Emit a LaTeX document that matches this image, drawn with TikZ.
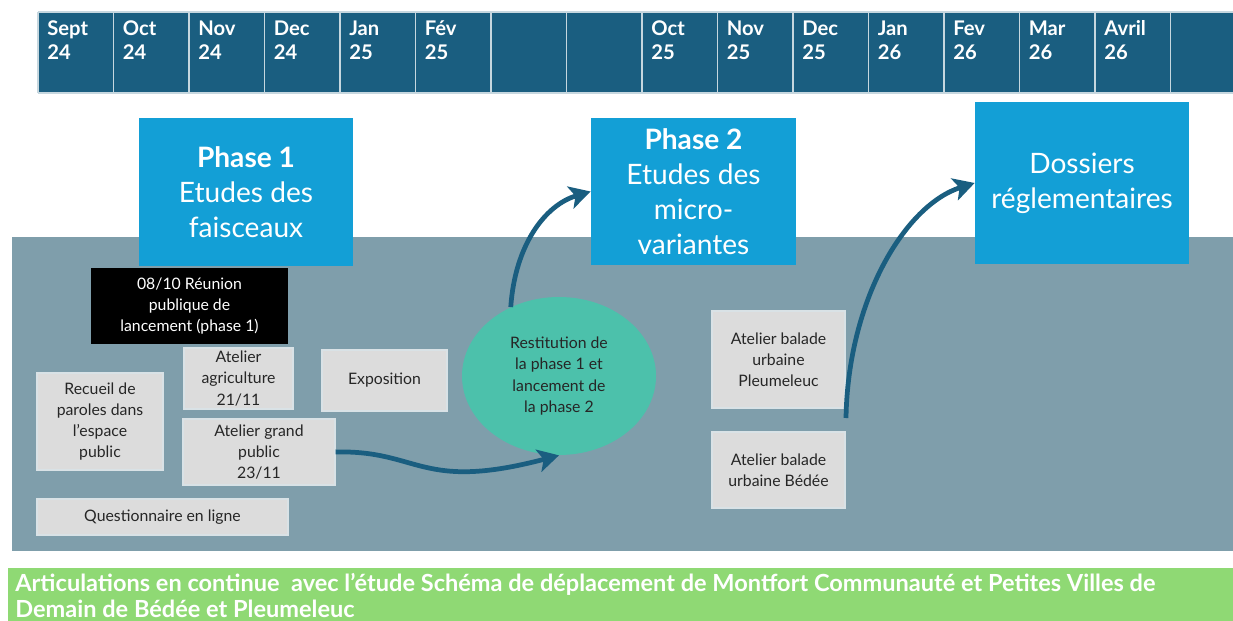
\documentclass[tikz,border=0pt]{standalone}
\usepackage{fontspec}
\setmainfont{Lato}
\usetikzlibrary{shapes.geometric,arrows.meta}

\definecolor{month blue}{HTML}{1A5E80}
\definecolor{phase blue}{HTML}{139FD6}
\definecolor{panel grey}{HTML}{7F9EAB}
\definecolor{event grey}{HTML}{DCDCDC}
\definecolor{restit green}{HTML}{4CC1AB}
\definecolor{bar green}{HTML}{8FD974}
\colorlet{arrow blue}{month blue}
\colorlet{event text}{black!85}
\colorlet{cell edge}{white!75!month blue}

\tikzset{
  dims/.style 2 args={minimum width=#1*0.02cm, minimum height=#2*0.02cm, inner sep=0pt},
  phase/.style={fill=phase blue, text=white, align=center, font=\fontsize{16}{20}\selectfont},
  event/.style={fill=event grey, draw=white!70!panel grey, line width=0.6pt, text=event text, align=center, font=\fontsize{9}{12}\selectfont}
  }
\tikzstyle{month} = [anchor=north west, align=left, text=white, inner sep=0pt, font=\bfseries\fontsize{11.5}{13.6}\selectfont]
\tikzstyle{flow} = [draw=arrow blue, line width=2.7pt, -{Stealth[length=12pt,width=13pt,inset=3pt]}]

\begin{document}
\begin{tikzpicture}[x=0.02cm, y=-0.02cm]
    \useasboundingbox (0,0) rectangle (1233,621);

    % The month strip
    \fill[month blue] (38,12) rectangle (1233,93);
    \foreach \k in {0,...,15}
      \draw[cell edge, line width=0.6pt] (38+75.5*\k,12) -- ++(0,81);
    \draw[cell edge, line width=0.6pt] (38,12) -- (1233,12) (38,93) -- (1233,93);
    \foreach \k/\mon/\yr in {0/Sept/24, 1/Oct/24, 2/Nov/24, 3/Dec/24, 4/Jan/25, 5/Fév/25, 8/Oct/25, 9/Nov/25, 10/Dec/25, 11/Jan/26, 12/Fev/26, 13/Mar/26, 14/Avril/26}
      \node[month] (m\k) at (38+75.5*\k+9,20.5) {\mon\\\yr};

    % The working panel and the green bar
    \fill[panel grey] (12,237) rectangle (1233,551);
    \fill[bar green] (8,568) rectangle (1233,621);
    \node[anchor=north west, align=left, text=white, inner sep=0pt, font=\bfseries\fontsize{13.4}{14.7}\selectfont] (suivi) at (15,573)
      {Articulations en continue\ \ avec l’étude Schéma de déplacement de Montfort Communauté et Petites Villes de\\Demain de Bédée et Pleumeleuc};

    % The phases
    \node[phase, dims={214}{148}] (ph1) at (246,192) {\textbf{Phase 1}\\Etudes des\\faisceaux};
    \node[phase, dims={205}{147}] (ph2) at (693.5,191.5) {\textbf{Phase 2}\\Etudes des\\micro-\\variantes};
    \node[phase, dims={214}{162}] (dos) at (1082,183) {Dossiers\\réglementaires};

    % The meetings and workshops
    \node[event, dims={195}{74}, fill=black, draw=black, text=white] (launch) at (189.5,306) {08/10 Réunion\\publique de\\lancement (phase 1)};
    \node[event, dims={109}{61}] (agri) at (238.5,378.5) {Atelier\\agriculture\\21/11};
    \node[event, dims={126}{97}] (recueil) at (100,421.5) {Recueil de\\paroles dans\\l’espace\\public};
    \node[event, dims={152}{66}] (grand) at (259,452) {Atelier grand\\public\\23/11};
    \node[event, dims={251}{36}] (quest) at (162.5,517) {Questionnaire en ligne};
    \node[event, dims={125}{61}] (expo) at (384.5,380.5) {Exposition};
    \node[event, dims={133}{97}] (pleu) at (778.5,359.5) {Atelier balade\\urbaine\\Pleumeleuc};
    \node[event, dims={133}{76}] (bedee) at (778.5,470) {Atelier balade\\urbaine Bédée};
    \node[ellipse, fill=restit green, dims={194}{158}, align=center, text=event text, font=\fontsize{9}{12}\selectfont] (rest) at (559,376)
      {Restitution de\\la phase 1 et\\lancement de\\la phase 2};

    % The arrows between them
    \coordinate (pleu foot) at (846,418);
    \path[flow] (grand.east) .. controls (420,450) and (420,492) .. (rest.south);
    \path[flow] (rest.125) .. controls (515,245) and (545,205) .. (ph2.west);
    \path[flow] (pleu foot) .. controls (848,300) and (905,205) .. (dos.west);
\end{tikzpicture}
\end{document}
